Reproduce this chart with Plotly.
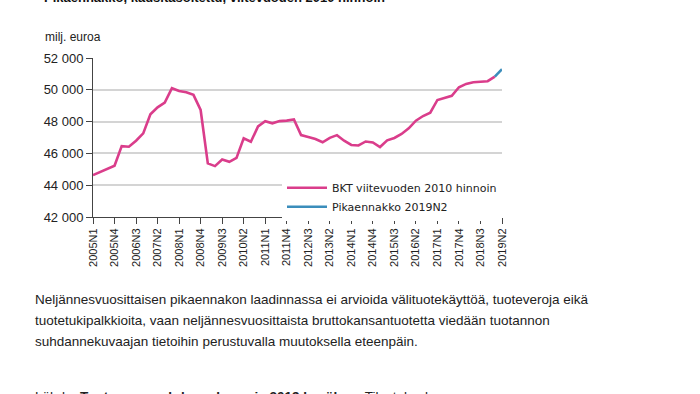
import plotly.graph_objects as go

years = list(range(2005, 2020))
quarters = [f"{y}N{q}" for y in years for q in range(1, 5)][:58]  # 2005N1 .. 2019N2

bkt_values = [
    44630, 44840, 45050, 45220, 46460, 46420, 46800, 47260,
    48460, 48900, 49190, 50100, 49930, 49850, 49680, 48730,
    45370, 45200, 45620, 45470, 45720, 46950, 46730, 47700,
    48020, 47890, 48030, 48060, 48140, 47150, 47030, 46900,
    46700, 46980, 47150, 46800, 46530, 46500, 46750, 46690,
    46400, 46820, 46970, 47220, 47580, 48060, 48350, 48560,
    49360, 49470, 49620, 50160, 50370, 50480, 50520, 50540,
    50830, None,
]
flash_values = [None] * 56 + [50830, 51300]

tick_labels = quarters[::3]
y_ticks = [42000, 44000, 46000, 48000, 50000, 52000]

series_names = ["BKT viitevuoden 2010 hinnoin", "Pikaennakko 2019N2"]
series_colors = ["#da3d8b", "#3b8dbb"]

title_text = "Pikaennakko, kausitasoitettu, viitevuoden 2010 hinnoin"
unit_text = "milj. euroa"
paragraph_lines = [
    "Neljännesvuosittaisen pikaennakon laadinnassa ei arvioida välituotekäyttöä, tuoteveroja eikä",
    "tuotetukipalkkioita, vaan neljännesvuosittaista bruttokansantuotetta viedään tuotannon",
    "suhdannekuvaajan tietoihin perustuvalla muutoksella eteenpäin.",
]
source_text = "Lähde: <b>Tuotannon suhdannekuvaaja 2019 kesäkuu</b>, Tilastokeskus"

# body margin is removed by post_script, so page pixels == figure pixels
W, H = 700, 394
ML = 93
MT = 58
PLOT_RIGHT = 501.7
PLOT_BOTTOM = 216.7
MR = W - PLOT_RIGHT
MB = H - PLOT_BOTTOM
plot_h = PLOT_BOTTOM - MT
plot_w = PLOT_RIGHT - ML


def py(ref_px):
    return (PLOT_BOTTOM - ref_px) / plot_h


def px(ref_px):
    return (ref_px - ML) / plot_w


fig = go.Figure()
fig.add_trace(go.Scatter(
    x=quarters, y=bkt_values, mode="lines", name=series_names[0],
    line=dict(color=series_colors[0], width=2.6), connectgaps=False,
))
fig.add_trace(go.Scatter(
    x=quarters, y=flash_values, mode="lines", name=series_names[1],
    line=dict(color=series_colors[1], width=2.6), connectgaps=False,
))

text_color = "#222222"
annotations = [
    dict(text=unit_text, xref="paper", yref="paper",
         x=px(43), y=py(37), xanchor="left", yanchor="middle",
         showarrow=False, font=dict(family="Liberation Sans, Arial", size=12, color=text_color)),
    dict(text=f"<b>{title_text}</b>", xref="paper", yref="paper",
         x=px(42), y=py(-2.8), xanchor="left", yanchor="middle",
         showarrow=False, font=dict(family="Liberation Sans, Arial", size=13, color="#111111")),
]
for i, line in enumerate(paragraph_lines):
    annotations.append(dict(
        text=line, xref="paper", yref="paper",
        x=px(33), y=py(299 + 21 * i), xanchor="left", yanchor="middle",
        showarrow=False, font=dict(family="Liberation Sans, Arial", size=13.5, color=text_color)))
annotations.append(dict(
    text=source_text, xref="paper", yref="paper",
    x=px(33), y=py(396), xanchor="left", yanchor="middle",
    showarrow=False, font=dict(family="Liberation Sans, Arial", size=13.5, color=text_color)))

fig.update_layout(
    width=W, height=H,
    margin=dict(l=ML, r=MR, t=MT, b=MB, pad=0),
    paper_bgcolor="white", plot_bgcolor="white",
    separators=", ",
    showlegend=True,
    legend=dict(
        x=1.0, y=py(173), xanchor="right", yanchor="top",
        bgcolor="white", borderwidth=0,
        font=dict(family="DejaVu Sans, Verdana", size=11, color=text_color),
        tracegroupgap=0, itemwidth=40,
    ),
    annotations=annotations,
    xaxis=dict(
        type="category", range=[0, 57],
        tickmode="array", tickvals=tick_labels, ticktext=tick_labels,
        tickangle=-90, ticks="outside", ticklen=6, tickcolor="#444444",
        showline=True, linecolor="#444444", linewidth=1,
        showgrid=False, zeroline=False,
        tickfont=dict(family="Liberation Sans, Arial", size=11, color=text_color),
    ),
    yaxis=dict(
        range=[42000, 52000], tickmode="array", tickvals=y_ticks,
        tickformat=",d", ticks="outside", ticklen=6, tickcolor="#444444",
        showline=True, linecolor="#444444", linewidth=1,
        showgrid=True, gridcolor="#d4d4d4", gridwidth=1.5, zeroline=False,
        tickfont=dict(family="Liberation Sans, Arial", size=13, color=text_color),
    ),
)

fig.write_html(
    "out.html",
    config={"displayModeBar": False},
    post_script="document.body.style.margin='0';",
)
